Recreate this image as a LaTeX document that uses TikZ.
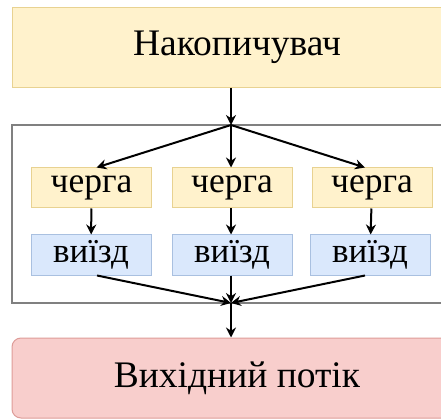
\documentclass[tikz,border=0pt]{standalone}
\usepackage{fontspec}
\setmainfont{Liberation Serif}
\usetikzlibrary{arrows.meta}
\definecolor{yelfill}{HTML}{FFF2CC}
\definecolor{yelline}{HTML}{E8D291}
\definecolor{bluefill}{HTML}{DAE8FC}
\definecolor{blueline}{HTML}{A9C0E0}
\definecolor{redfill}{HTML}{F8CECC}
\definecolor{redline}{HTML}{DE9C98}
\definecolor{frameline}{HTML}{808080}
\tikzset{
  bigbox/.style={minimum width=450pt, minimum height=80pt, inner sep=0pt,
    font=\fontsize{37.5}{40}\selectfont, line width=1pt},
  qbox/.style={minimum width=120pt, minimum height=40pt, inner sep=0pt,
    draw=yelline, fill=yelfill, line width=1pt, font=\fontsize{35.5}{38}\selectfont},
  obox/.style={minimum width=120pt, minimum height=40pt, inner sep=0pt,
    draw=blueline, fill=bluefill, line width=1pt, font=\fontsize{35}{38}\selectfont},
  flow/.style={line width=2pt, -{Stealth[length=10pt,width=10pt]}}
}
\begin{document}
\begin{tikzpicture}[x=1pt,y=-1pt]
\clip (0,0) rectangle (441,419);
\fill[white] (0,0) rectangle (441,419);
% outer blocks
\node[bigbox, draw=yelline, fill=yelfill] (acc) at (237,47.5) {Накопичувач};
\node[draw=frameline, line width=1.8pt, minimum width=450pt, minimum height=178pt, inner sep=0pt] (group) at (237,214) {};
\node[bigbox, draw=redline, fill=redfill, rounded corners=9pt] (out) at (237,378) {Вихідний потік};
% queues and exits
\node[qbox] (q1) at (91.5,188) {черга};
\node[qbox] (q2) at (232,188) {черга};
\node[qbox] (q3) at (372,188) {черга};
\node[obox] (e1) at (91,255) {виїзд};
\node[obox] (e2) at (232,255) {виїзд};
\node[obox] (e3) at (370,255) {виїзд};
% split and merge points
\coordinate (split) at (231,125);
\coordinate (merge) at (231,303);
% connectors
\draw[flow] (acc.south -| split) -- (split);
\draw[flow] (split) -- ([xshift=5pt]q1.north);
\draw[flow] (split) -- (q2.north -| split);
\draw[flow] (split) -- ([xshift=-7pt]q3.north);
\draw[flow] (q1) -- (e1);
\draw[flow] (q2.south -| split) -- (e2.north -| split);
\draw[flow] (q3) -- (e3);
\draw[flow] ([xshift=6pt]e1.south) -- (merge);
\draw[flow] (e2.south -| merge) -- (merge);
\draw[flow] ([xshift=-5pt]e3.south) -- (merge);
\draw[flow] (merge) -- (out.north -| merge);
\end{tikzpicture}
\end{document}
